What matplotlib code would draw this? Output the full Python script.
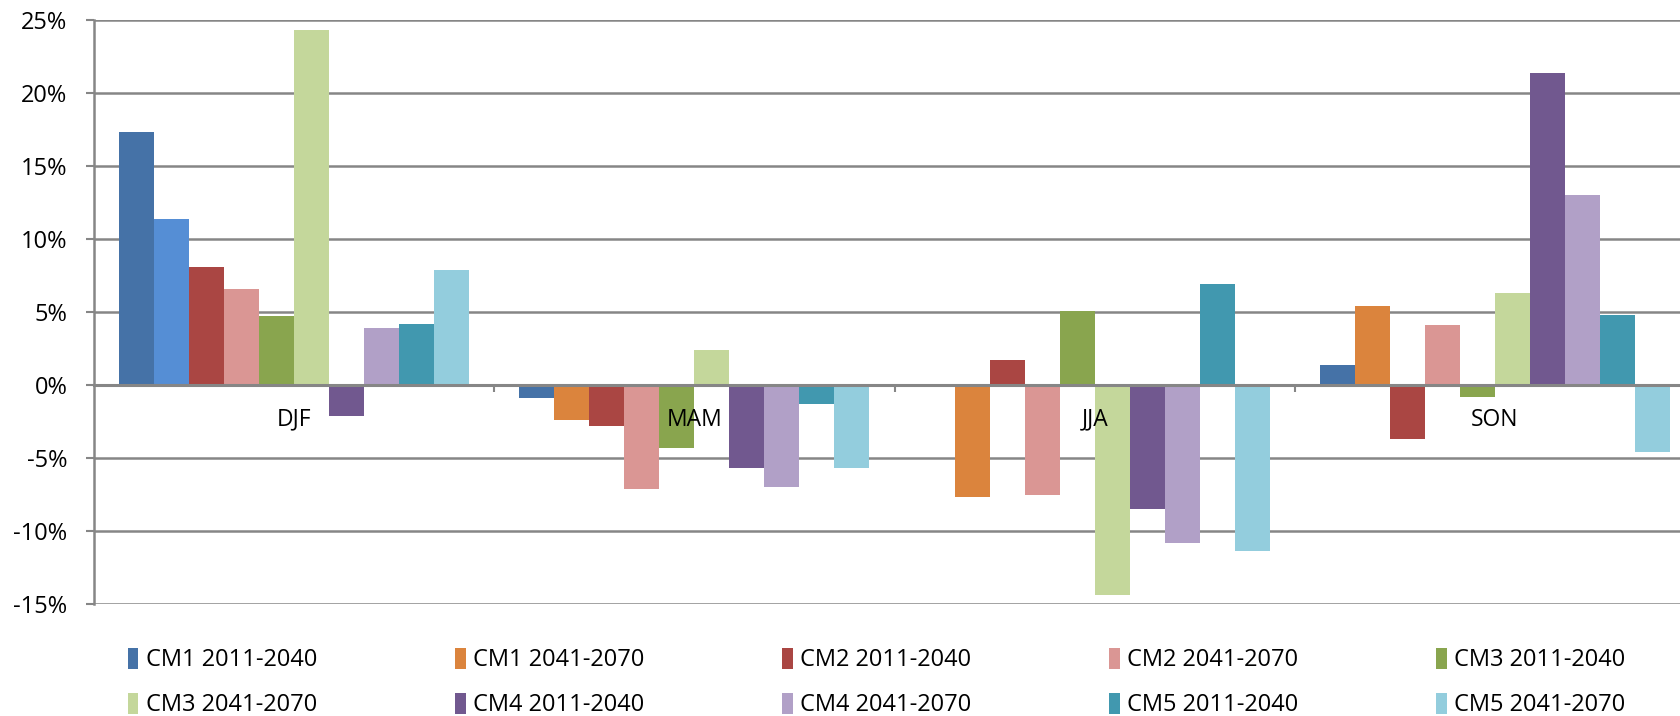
import numpy as np
import matplotlib.pyplot as plt
from matplotlib.patches import Patch
from matplotlib.ticker import FuncFormatter, FixedLocator
from matplotlib.transforms import offset_copy

plt.rcParams['font.family'] = ['Open Sans', 'DejaVu Sans']

SEASONS = ['DJF', 'MAM', 'JJA', 'SON']
SERIES = ['CM1 2011-2040', 'CM1 2041-2070', 'CM2 2011-2040', 'CM2 2041-2070',
          'CM3 2011-2040', 'CM3 2041-2070', 'CM4 2011-2040', 'CM4 2041-2070',
          'CM5 2011-2040', 'CM5 2041-2070']
COLORS = ['#4572A7', '#DB843D', '#AA4643', '#DA9694', '#89A54E',
          '#C4D79B', '#71588F', '#B1A0C7', '#4198AF', '#93CDDD']
DJF_CM1_FUTURE_COLOR = '#558ED5'

# change in percent, one row per series, one column per season
VALUES = np.array([
    [17.3, -0.9, 0.1, 1.4],
    [11.4, -2.4, -7.7, 5.4],
    [8.1, -2.8, 1.7, -3.7],
    [6.6, -7.1, -7.5, 4.1],
    [4.7, -4.3, 5.1, -0.8],
    [24.3, 2.4, -14.4, 6.3],
    [-2.1, -5.7, -8.5, 21.4],
    [3.9, -7.0, -10.8, 13.0],
    [4.2, -1.3, 6.9, 4.8],
    [7.9, -5.7, -11.4, -4.6],
])

W_PX, H_PX = 1681, 716
fig = plt.figure(figsize=(W_PX / 100, H_PX / 100), dpi=100)
left, right = 94 / W_PX, 1.0
bottom, top = 1 - 604 / H_PX, 1 - 20 / H_PX
ax = fig.add_axes([left, bottom, right - left, top - bottom])

group_px = 400.3
bar_w = 35 / group_px
x = np.arange(len(SEASONS))
n = len(SERIES)
for i, (name, col) in enumerate(zip(SERIES, COLORS)):
    offs = (i - (n - 1) / 2) * bar_w
    colors = [col] * len(SEASONS)
    if i == 1:
        colors[0] = DJF_CM1_FUTURE_COLOR
    ax.bar(x + offs, VALUES[i], width=bar_w, color=colors, label=name,
           edgecolor='none', zorder=2)

ax.set_xlim(-0.5, -0.5 + (W_PX - 94) / group_px)
ax.set_ylim(-15, 25)
ax.set_yticks(np.arange(-15, 26, 5))
ax.yaxis.set_major_formatter(FuncFormatter(lambda v, p: '%d%%' % v))

grid_c = '#868686'
ax.grid(axis='y', color=grid_c, linewidth=1.8, zorder=0)
ax.set_axisbelow(True)
for s in ['top', 'right']:
    ax.spines[s].set_visible(False)
ax.spines['left'].set_color(grid_c)
ax.spines['left'].set_linewidth(1.8)
ax.spines['bottom'].set_position(('data', 0))
ax.spines['bottom'].set_color(grid_c)
ax.spines['bottom'].set_linewidth(2.2)
ax.spines['bottom'].set_zorder(3)

# season names sit just under the zero line, on top of the bars
ax.set_xticks(x)
ax.set_xticklabels([])
ax.xaxis.set_minor_locator(FixedLocator([0.5, 1.5, 2.5]))
ax.tick_params(axis='x', which='major', length=0)
ax.tick_params(axis='x', which='minor', length=5, width=1.5, color=grid_c)
ax.tick_params(axis='y', length=6, width=1.5, color=grid_c, pad=13, labelsize=17)
lab_tr = offset_copy(ax.transData, fig=fig, x=0, y=-25, units='points')
for xi, s in zip(x, SEASONS):
    ax.text(xi, 0, s, transform=lab_tr, ha='center', va='center',
            fontsize=16.5, zorder=5)

# legend in two rows, filled row by row
handles = [Patch(facecolor=c, edgecolor='none') for c in COLORS]
order = [0, 5, 1, 6, 2, 7, 3, 8, 4, 9]
fig.legend([handles[k] for k in order], [SERIES[k] for k in order],
           ncol=5, loc='upper left', bbox_to_anchor=(116 / W_PX, 1 - 636 / H_PX),
           frameon=False, fontsize=17, handlelength=0.45, handleheight=1.0,
           handletextpad=0.3, columnspacing=5.85, labelspacing=0.85, borderpad=0)

fig.savefig('out.png', dpi=100)
